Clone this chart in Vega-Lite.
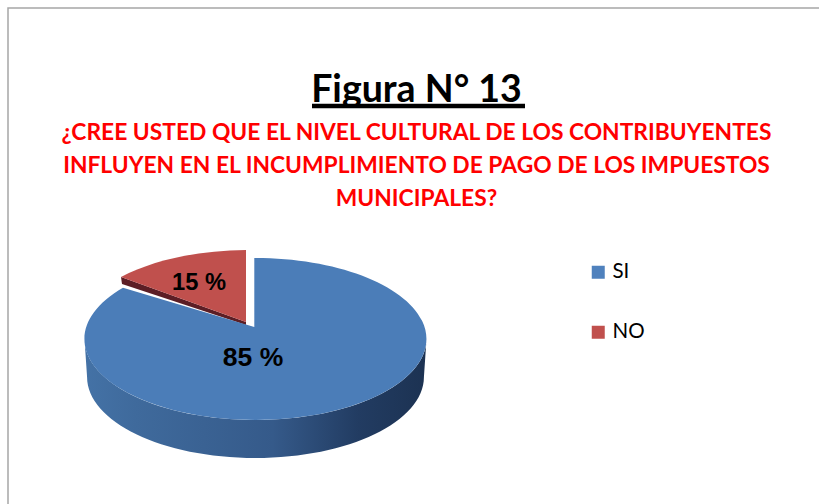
{
"$schema":"https://vega.github.io/schema/vega-lite/v6.json",
"width":820,"height":520,
"autosize":{"type":"none"},
"padding":{"left":8,"top":8,"right":0,"bottom":0},
"background":"#ffffff",
"view":{"stroke":"#a6a6a6","strokeWidth":1.5,"fill":"#ffffff"},
"title":{"text":"Figura N° 13","subtitle":["¿CREE USTED QUE EL NIVEL CULTURAL DE LOS CONTRIBUYENTES","INFLUYEN EN EL INCUMPLIMIENTO DE PAGO DE LOS IMPUESTOS","MUNICIPALES?"],"anchor":"middle","frame":"group","dx":-1.5,"font":"Lato","fontSize":37.5,"fontWeight":"bold","color":"#000000","subtitleFont":"Lato","subtitleFontSize":22.8,"subtitleFontWeight":"bold","subtitleColor":"#ff0000","subtitleLineHeight":33,"subtitlePadding":13,"offset":-203},
"data":{"values":[{"respuesta":"SI","porcentaje":85,"etiqueta":"85 %"},{"respuesta":"NO","porcentaje":15,"etiqueta":"15 %"}]},
"layer":[
{"mark":{"type":"square","size":1,"xOffset":-162.5,"yOffset":71},
 "encoding":{
  "color":{"field":"respuesta","type":"nominal","sort":["SI","NO"],"scale":{"domain":["SI","NO"],"range":["#4f81bd","#c0504d"]},"legend":{"title":null,"orient":"none","legendX":580,"legendY":254,"symbolType":"square","symbolSize":169,"symbolOpacity":1,"symbolStrokeWidth":0,"labelFont":"Lato","labelFontSize":20.5,"labelColor":"#000000","rowPadding":39,"labelOffset":4,"padding":0}}
 }},
{"transform":[{"filter":"datum.respuesta==='SI'"}],
 "mark":{"type":"point","filled":true,"opacity":1,"size":116964,"xOffset":-162.5,"yOffset":71,"shape":"M-1,0 A1,0.4737 0 0 0 1,0 L0.985,0.222 A0.985,0.4737 0 0 1 -0.985,0.222 Z","fill":{"gradient":"linear","x1":0,"y1":0,"x2":1,"y2":0,"stops":[{"offset":0,"color":"#4472a6"},{"offset":0.15,"color":"#3f6a9c"},{"offset":0.55,"color":"#355a8a"},{"offset":0.8,"color":"#223c62"},{"offset":1,"color":"#1c3252"}]}},
 "encoding":{}},
{"transform":[{"filter":"datum.respuesta==='NO'"}],
 "mark":{"type":"point","filled":true,"opacity":1,"size":116964,"xOffset":-162.5,"yOffset":71,"shape":"M-0.7865,-0.3626 L-0.7807,-0.3216 L-0.0556,-0.0819 L-0.0556,-0.0994 Z","fill":"#5c1e25"},
 "encoding":{}},
{"transform":[{"filter":"datum.respuesta==='SI'"}],
 "mark":{"type":"point","filled":true,"opacity":1,"size":116964,"xOffset":-162.5,"yOffset":71,"fill":"#4b7db8","shape":"M-0.007,-0.07 L-0.007,-0.4737 A1,0.4737 0 1 1 -0.775,-0.2996 Z"},
 "encoding":{}},
{"transform":[{"filter":"datum.respuesta==='NO'"}],
 "mark":{"type":"point","filled":true,"opacity":1,"size":116964,"xOffset":-162.5,"yOffset":71,"fill":"#c0504d","shape":"M-0.0556,-0.0994 L-0.0556,-0.5205 A1,0.4737 0 0 0 -0.7865,-0.3626 Z"},
 "encoding":{}},
{"transform":[{"filter":"datum.respuesta==='SI'"}],
 "mark":{"type":"point","filled":true,"opacity":1,"size":45369,"xOffset":0.5,"yOffset":-162,"shape":"M-1,-0.0207 H1 V0.0207 H-1 Z","fill":"#000000"},
 "encoding":{}},
{"transform":[{"filter":"datum.respuesta==='SI'"}],
 "mark":{"type":"text","font":"Liberation Sans","fontWeight":"bold","fontSize":26.5,"align":"center","baseline":"middle","color":"#000000","xOffset":-165,"yOffset":90},
 "encoding":{"text":{"field":"etiqueta","type":"nominal"}}},
{"transform":[{"filter":"datum.respuesta==='NO'"}],
 "mark":{"type":"text","font":"Liberation Sans","fontWeight":"bold","fontSize":23.7,"align":"center","baseline":"middle","color":"#000000","xOffset":-219,"yOffset":14.5},
 "encoding":{"text":{"field":"etiqueta","type":"nominal"}}}
]
}
